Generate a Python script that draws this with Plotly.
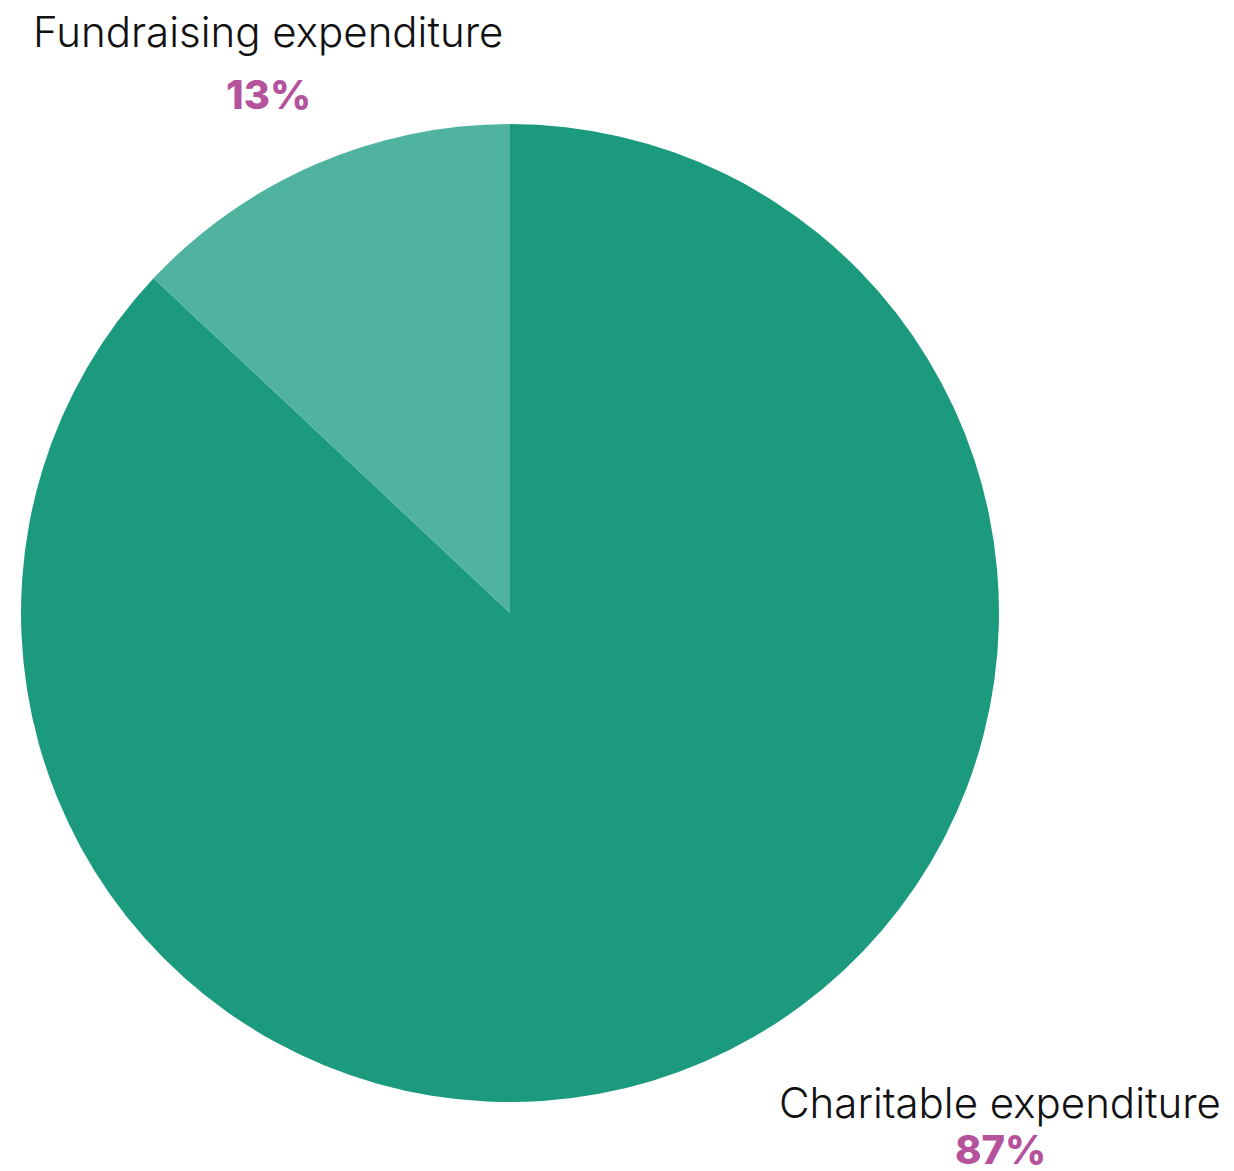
import plotly.graph_objects as go

categories = ["Charitable expenditure", "Fundraising expenditure"]
values = [87, 13]
pct_labels = ["87%", "13%"]
colors = ["#1B9A7E", "#4FB3A0"]

OFF = 8  # page body margin
W, H = 1234 - OFF, 1171 - OFF


def px(x):
    return (x - OFF) / W


def py(y):
    return 1 - (y - OFF) / H


fig = go.Figure(go.Pie(
    labels=categories,
    values=values,
    sort=False,
    direction="clockwise",
    rotation=0,
    marker=dict(colors=colors, line=dict(width=0)),
    textinfo="none",
    hoverinfo="label+percent",
    showlegend=False,
    domain=dict(x=[px(21), px(999)], y=[py(1102), py(124)]),
))

label_font = dict(family="Inter", size=42, color="#111111", weight=300)
pct_font = dict(family="Inter", size=40, color="#B4529C", weight=800)

# Fundraising label (top-left)
fig.add_annotation(x=px(268), y=py(32), xref="paper", yref="paper",
                   text=categories[1], showarrow=False, font=label_font,
                   xanchor="center", yanchor="middle")
fig.add_annotation(x=px(268), y=py(95), xref="paper", yref="paper",
                   text=pct_labels[1], showarrow=False, font=pct_font,
                   xanchor="center", yanchor="middle")
# Charitable label (bottom-right)
fig.add_annotation(x=px(1000), y=py(1102), xref="paper", yref="paper",
                   text=categories[0], showarrow=False, font=label_font,
                   xanchor="center", yanchor="middle")
fig.add_annotation(x=px(1000), y=py(1149), xref="paper", yref="paper",
                   text=pct_labels[0], showarrow=False, font=pct_font,
                   xanchor="center", yanchor="middle")

fig.update_layout(
    width=W, height=H,
    margin=dict(l=0, r=0, t=0, b=0),
    paper_bgcolor="white",
    plot_bgcolor="white",
)

fig.write_html("out.html")
